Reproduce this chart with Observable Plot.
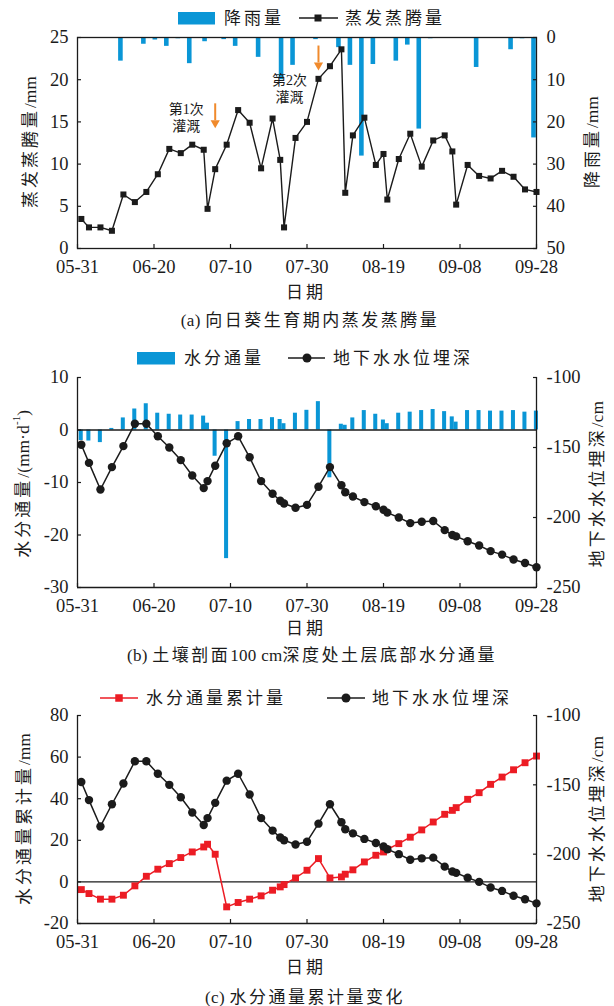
<!DOCTYPE html>
<html>
<head>
<meta charset="utf-8">
<script src="https://cdn.jsdelivr.net/npm/d3@7"></script>
<script src="https://cdn.jsdelivr.net/npm/@observablehq/plot@0.6"></script>
<style>
html,body{margin:0;padding:0;background:#fff;}
#root{position:relative;width:614px;height:1006px;overflow:hidden;background:#fff;}
#root svg text{font-family:"Liberation Serif","Noto Sans CJK SC",serif;}
</style>
</head>
<body>
<div id="root"></div>
<script>
// ---------- data ----------
const dates = ["06-01","06-03","06-06","06-09","06-12","06-15","06-18","06-21","06-24","06-27","06-30",
  "07-03","07-04","07-06","07-09","07-12","07-15","07-18","07-21","07-23","07-24","07-27","07-30",
  "08-02","08-05","08-08","08-09","08-11","08-14","08-17","08-19","08-20","08-23","08-26","08-29",
  "09-01","09-04","09-06","09-07","09-10","09-13","09-16","09-19","09-22","09-25","09-28"];
const et = [3.5,2.5,2.5,2.1,6.4,5.5,6.7,8.8,11.8,11.3,12.3,
  11.7,4.7,9.4,12.3,16.4,14.9,9.5,15.4,10.5,2.5,13.1,15.0,
  20.1,21.6,23.6,6.6,13.4,15.5,9.9,11.2,5.8,10.6,13.6,9.7,
  12.8,13.4,11.5,5.2,9.9,8.6,8.3,9.2,8.5,7.0,6.7];
const gw = [-148,-161,-180,-164,-149,-133,-133,-142,-150,-159,-170,
  -179,-174,-163,-147,-142,-157,-174,-183,-188,-190,-193,-191,
  -178,-164,-177,-182,-185,-189,-192,-194.5,-196.5,-200,-204,-203,
  -202.5,-209,-212.5,-213.5,-217,-220,-224,-226.5,-230,-232.5,-235.5];
const flux = [-2.0,-2.1,-2.4,0.3,2.3,4.0,5.0,3.2,3.0,2.85,2.85,
  2.65,1.3,-5.0,-24.5,1.6,2.0,2.0,2.35,2.0,1.2,3.2,3.75,
  5.4,-9.1,1.1,0.9,2.3,3.7,3.0,1.9,1.2,3.2,3.4,3.7,
  3.9,3.5,2.5,1.5,3.7,3.7,3.6,3.6,3.7,3.4,3.6];
const cumFlux = [-3.7,-5.6,-8.3,-8.3,-6.4,-1.9,2.7,6.1,8.8,11.7,14.4,
  16.8,18.1,13.3,-12.0,-9.9,-8.3,-6.7,-4.0,-2.4,-1.3,1.9,5.6,
  11.2,1.9,2.4,3.7,5.8,9.6,12.8,14.4,15.7,18.4,21.5,25.0,
  28.8,32.5,34.4,35.7,39.7,42.9,46.9,50.4,53.9,57.3,60.5];
const rainDates = ["06-11","06-17","06-20","06-23","06-26","06-29","07-03","07-08","07-11","07-17","07-23","07-26",
  "08-01","08-07","08-10","08-13","08-16","08-22","08-25","08-28","08-31","09-12","09-15","09-21","09-24","09-27"];
const rain = [5.6,1.6,0.6,2.1,0.3,6.2,1.0,0.5,2.1,4.7,10,6.6,
  0.5,2.4,6.6,28.1,6.4,5.6,1.8,21.7,0.3,7.1,0.2,2.9,0.3,23.8];
const irrDates = ["07-06","08-02"];
const irrLabels = ["第1次\n灌溉","第2次\n灌溉"];
const irrTop = [17.2, 24.05];
const irrBase = [15.2, 22.05];
const irrTextY = [15.6, 19.0];
const xTickLabels = ["05-31","06-20","07-10","07-30","08-19","09-08","09-28"];
const etTicks = [0,5,10,15,20,25];
const rainTicks = [0,10,20,30,40,50];
const fluxTicks = [-30,-20,-10,0,10];
const gwTicks = [-250,-200,-150,-100];
const cumTicks = [-20,0,20,40,60,80];

// ---------- helpers ----------
const YEAR = "2019";
const parse = d3.utcParse("%Y-%m-%d");
const toDate = s => parse(`${YEAR}-${s}`);
const DAY = 864e5;
const shift = (d, k) => new Date(+d + k * DAY);
const fmt = v => { v = Math.round(v * 100) / 100; return (v < 0 ? "-" : "") + Math.abs(v); };

const BLUE = "#0a96d6", RED = "#ec1c24", INK = "#1b1b1b", ORANGE = "#f08a2c";
const FONT = "'Liberation Serif','Noto Sans CJK SC',serif";
const TICKFS = 18.5;
const W = 614, ML = 77, MR = 78;

const start = toDate("05-31"), end = toDate("09-28");
const xTicks = xTickLabels.map(toDate);
const main = dates.map((s, i) => ({date: toDate(s), et: et[i], gw: gw[i], flux: flux[i], cum: cumFlux[i]}));
const rainData = rainDates.map((s, i) => ({date: toDate(s), rain: rain[i]}));
const irr = irrDates.map((s, i) => ({date: toDate(s), label: irrLabels[i], top: irrTop[i], base: irrBase[i], ty: irrTextY[i]}));

const yA = [0, 25], yB = [-30, 10], yC = [-20, 80];
const rainY = d3.scaleLinear().domain([0, 50]).range([yA[1], yA[0]]);
const gwYb = d3.scaleLinear().domain([-250, -100]).range(yB);
const gwYc = d3.scaleLinear().domain([-250, -100]).range(yC);

const downTri = {draw(ctx, size) { const r = Math.sqrt(size / Math.PI); ctx.moveTo(-1.15 * r, 0); ctx.lineTo(1.15 * r, 0); ctx.lineTo(0, 2 * r); ctx.closePath(); }};

function xAxes() {
  return [
    Plot.axisX({ticks: xTicks, tickFormat: d3.utcFormat("%m-%d"), tickSize: 0, tickPadding: 11, label: null, fontSize: TICKFS, fontFamily: FONT, fill: INK}),
    Plot.axisX({ticks: xTicks, tickSize: -4, fill: "none", label: null, stroke: INK, strokeWidth: 1.2})
  ];
}
function yAxes(anchor, ticks, format) {
  return [
    Plot.axisY({anchor, ticks, tickFormat: format, tickSize: 0, tickPadding: anchor === "left" ? 9 : 10, label: null, fontSize: TICKFS, fontFamily: FONT, fill: INK}),
    Plot.axisY({anchor, ticks, tickSize: -4, fill: "none", label: null, stroke: INK, strokeWidth: 1.2})
  ];
}
const svgStyle = top => ({position: "absolute", left: "0px", top: top + "px", overflow: "visible", background: "transparent", maxWidth: "none", fontFamily: FONT});
const root = document.getElementById("root");

// ---------- panel (a) ----------
const pa = Plot.plot({
  width: W, height: 250, marginLeft: ML, marginRight: MR, marginTop: 10, marginBottom: 29,
  x: {type: "utc", domain: [start, end]},
  y: {domain: yA},
  style: svgStyle(27),
  marks: [
    Plot.rect(rainData, {x1: d => shift(d.date, -0.25), x2: d => shift(d.date, 0.95), y1: () => yA[1], y2: d => rainY(d.rain), fill: BLUE}),
    Plot.line(main, {x: "date", y: "et", stroke: INK, strokeWidth: 1.4}),
    Plot.dot(main, {x: "date", y: "et", symbol: "square", fill: INK, r: 3.4}),
    Plot.link(irr, {x1: "date", x2: "date", y1: "top", y2: "base", stroke: ORANGE, strokeWidth: 2}),
    Plot.dot(irr, {x: "date", y: "base", symbol: downTri, fill: ORANGE, r: 4}),
    Plot.text(irr, {x: "date", y: "ty", text: "label", dx: -29, fontSize: 14, lineHeight: 1.2, fill: INK, fontFamily: FONT}),
    Plot.frame({stroke: INK, strokeWidth: 1.3}),
    ...xAxes(),
    ...yAxes("left", etTicks, fmt),
    ...yAxes("right", rainTicks.map(rainY), y => fmt(rainY.invert(y)))
  ]
});
root.appendChild(pa);

// ---------- panel (b) ----------
const pb = Plot.plot({
  width: W, height: 250, marginLeft: ML, marginRight: MR, marginTop: 10, marginBottom: 30,
  x: {type: "utc", domain: [start, end]},
  y: {domain: yB},
  style: svgStyle(367),
  marks: [
    Plot.rect(main, {x1: d => shift(d.date, -0.55), x2: d => shift(d.date, 0.5), y1: () => 0, y2: "flux", fill: BLUE}),
    Plot.ruleY([0], {stroke: INK, strokeWidth: 1.3}),
    Plot.line(main, {x: "date", y: d => gwYb(d.gw), stroke: INK, strokeWidth: 1.5}),
    Plot.dot(main, {x: "date", y: d => gwYb(d.gw), fill: INK, r: 4.2}),
    Plot.ruleX([start], {stroke: INK, strokeWidth: 1.3}),
    Plot.ruleX([end], {stroke: INK, strokeWidth: 1.3}),
    Plot.ruleY([yB[0]], {stroke: INK, strokeWidth: 1.3}),
    ...xAxes(),
    ...yAxes("left", fluxTicks, fmt),
    ...yAxes("right", gwTicks.map(gwYb), y => fmt(gwYb.invert(y)))
  ]
});
root.appendChild(pb);

// ---------- panel (c) ----------
const pc = Plot.plot({
  width: W, height: 250, marginLeft: ML, marginRight: MR, marginTop: 10, marginBottom: 32,
  x: {type: "utc", domain: [start, end]},
  y: {domain: yC},
  style: svgStyle(705),
  marks: [
    Plot.ruleY([0], {stroke: INK, strokeWidth: 1.3}),
    Plot.line(main, {x: "date", y: "cum", stroke: RED, strokeWidth: 1.5}),
    Plot.dot(main, {x: "date", y: "cum", symbol: "square", fill: RED, r: 3.9}),
    Plot.line(main, {x: "date", y: d => gwYc(d.gw), stroke: INK, strokeWidth: 1.5}),
    Plot.dot(main, {x: "date", y: d => gwYc(d.gw), fill: INK, r: 4.2}),
    Plot.ruleX([start], {stroke: INK, strokeWidth: 1.3}),
    Plot.ruleX([end], {stroke: INK, strokeWidth: 1.3}),
    Plot.ruleY([yC[0]], {stroke: INK, strokeWidth: 1.3}),
    ...xAxes(),
    ...yAxes("left", cumTicks, fmt),
    ...yAxes("right", gwTicks.map(gwYc), y => fmt(gwYc.invert(y)))
  ]
});
root.appendChild(pc);

// ---------- overlay: legends, titles, captions ----------
const ov = d3.create("svg").attr("width", W).attr("height", 1006)
  .style("position", "absolute").style("left", "0px").style("top", "0px").style("overflow", "visible");
const CJK = /[\u3000-\u9fff\uff00-\uffef]+|[^\u3000-\u9fff\uff00-\uffef]+/g;
function txt(x, y, str, {size = 17, anchor = "start", rotate = 0, spacing = 3} = {}) {
  const t = ov.append("text")
    .attr("transform", `translate(${x},${y}) rotate(${rotate})`)
    .attr("text-anchor", anchor).attr("dominant-baseline", "central")
    .attr("font-family", FONT).attr("font-size", size).attr("fill", INK);
  for (const run of str.match(CJK)) {
    const isCjk = /[\u3000-\u9fff\uff00-\uffef]/.test(run);
    t.append("tspan").attr("letter-spacing", isCjk ? spacing : 0.3).text(run);
  }
  return t;
}
function lrect(x, y, w, h, c) { ov.append("rect").attr("x", x).attr("y", y).attr("width", w).attr("height", h).attr("fill", c); }
function lline(x1, x2, y, c) { ov.append("line").attr("x1", x1).attr("x2", x2).attr("y1", y).attr("y2", y).attr("stroke", c).attr("stroke-width", 1.6); }
function lsq(cx, cy, s, c) { lrect(cx - s / 2, cy - s / 2, s, s, c); }
function lcirc(cx, cy, r, c) { ov.append("circle").attr("cx", cx).attr("cy", cy).attr("r", r).attr("fill", c); }

// legend (a)
lrect(178, 12, 37, 12.5, BLUE); txt(224, 18, "降雨量");
lline(299, 338, 18, INK); lsq(318, 18, 7, INK); txt(345, 18, "蒸发蒸腾量");
// legend (b)
lrect(137, 352, 38, 12.5, BLUE); txt(184, 358, "水分通量");
lline(288, 325, 358, INK); lcirc(307, 358, 4.5, INK); txt(333, 358, "地下水水位埋深");
// legend (c)
lline(100, 138, 698, RED); lsq(119, 698, 7.5, RED); txt(146, 698, "水分通量累计量");
lline(327, 365, 698, INK); lcirc(346, 698, 4.5, INK); txt(372, 698, "地下水水位埋深");

// axis titles
txt(30, 142, "蒸发蒸腾量/mm", {anchor: "middle", rotate: -90});
txt(592, 142, "降雨量/mm", {anchor: "middle", rotate: -90});
const tb = txt(23, 484, "水分通量/(mm·d", {anchor: "middle", rotate: -90});
tb.append("tspan").attr("font-size", 11).attr("dy", -7).text("-1");
tb.append("tspan").attr("dy", 7).text(")");
txt(597, 484, "地下水水位埋深/cm", {anchor: "middle", rotate: -90});
txt(24, 819, "水分通量累计量/mm", {anchor: "middle", rotate: -90});
txt(597, 819, "地下水水位埋深/cm", {anchor: "middle", rotate: -90});

// x titles
txt(306, 292, "日期", {anchor: "middle"});
txt(306, 628, "日期", {anchor: "middle"});
txt(306, 967, "日期", {anchor: "middle"});

// captions
txt(310, 320, "(a) 向日葵生育期内蒸发蒸腾量", {anchor: "middle", spacing: 2.5});
txt(312, 655, "(b) 土壤剖面100 cm深度处土层底部水分通量", {anchor: "middle", spacing: 2.5});
txt(305, 997, "(c) 水分通量累计量变化", {anchor: "middle", spacing: 2.5});

root.appendChild(ov.node());
</script>
</body>
</html>
